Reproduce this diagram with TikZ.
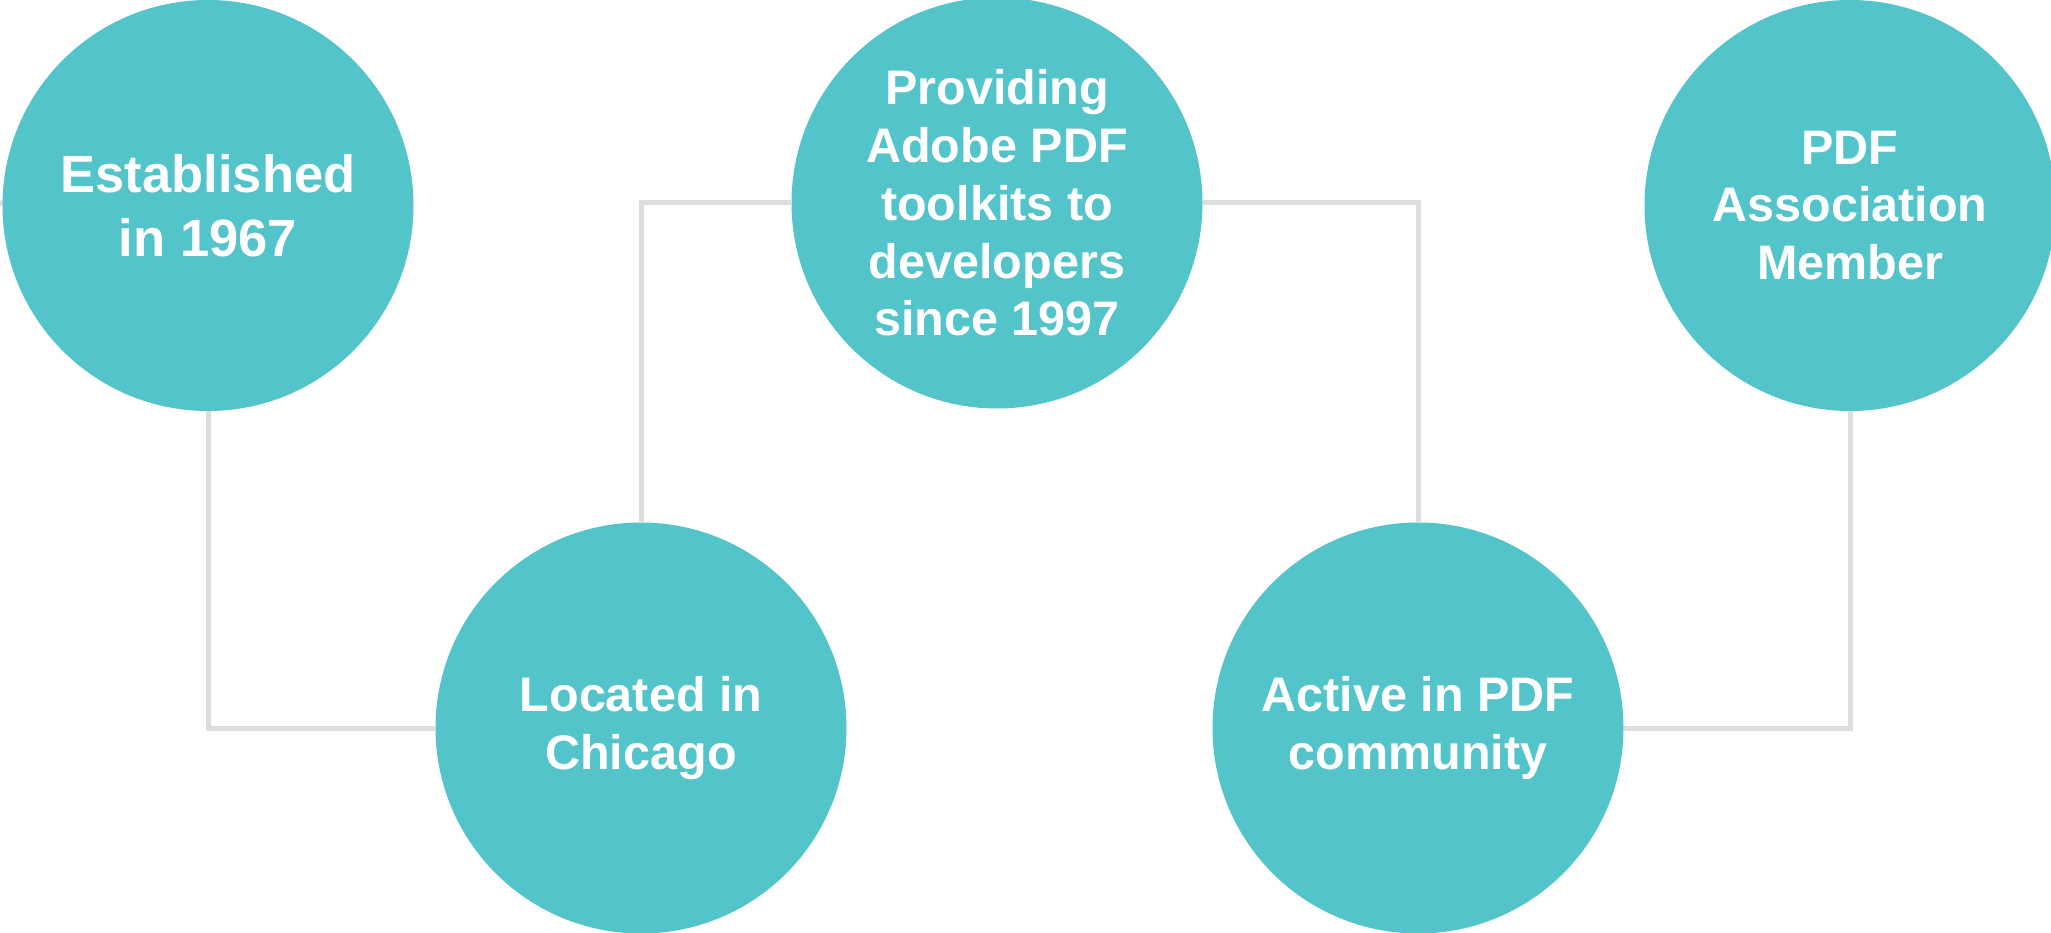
\documentclass[tikz,border=0pt]{standalone}
\usepackage{fontspec}
\setmainfont{Liberation Sans}
\usetikzlibrary{backgrounds}
\definecolor{bubblecol}{HTML}{52C4CA}
\definecolor{linegray}{HTML}{DDDDDD}
\begin{document}
\begin{tikzpicture}[x=1pt,y=-1pt,
  bub/.style={circle, fill=bubblecol, minimum size=411pt, inner sep=0pt, text=white, align=center,
              font=\bfseries\fontsize{48.5}{57.7}\selectfont},
  conn/.style={draw=linegray, line width=5pt}]
\useasboundingbox (0,0) rectangle (2051,933);
\clip (0,0) rectangle (2051,933);
\node[bub, font=\bfseries\fontsize{52.5}{64}\selectfont] (c1) at (208,205.5) {Established\\in 1967};
\node[bub] (c2) at (641,728) {Located in\\Chicago};
\node[bub] (c3) at (997,203) {Providing\\Adobe PDF\\toolkits to\\developers\\since 1997};
\node[bub] (c4) at (1418,728) {Active in PDF\\community};
\node[bub] (c5) at (1850,205.5) {PDF\\Association\\Member};
\coordinate (stub) at (0,201);
\begin{scope}[on background layer]
\draw[conn] (stub) -- (c1.west);
\draw[conn] (c1.south) |- (c2.west);
\draw[conn] (c2.north) |- (c3.west);
\draw[conn] (c3.east) -| (c4.north);
\draw[conn] (c4.east) -| (c5.south);
\end{scope}
\end{tikzpicture}
\end{document}
